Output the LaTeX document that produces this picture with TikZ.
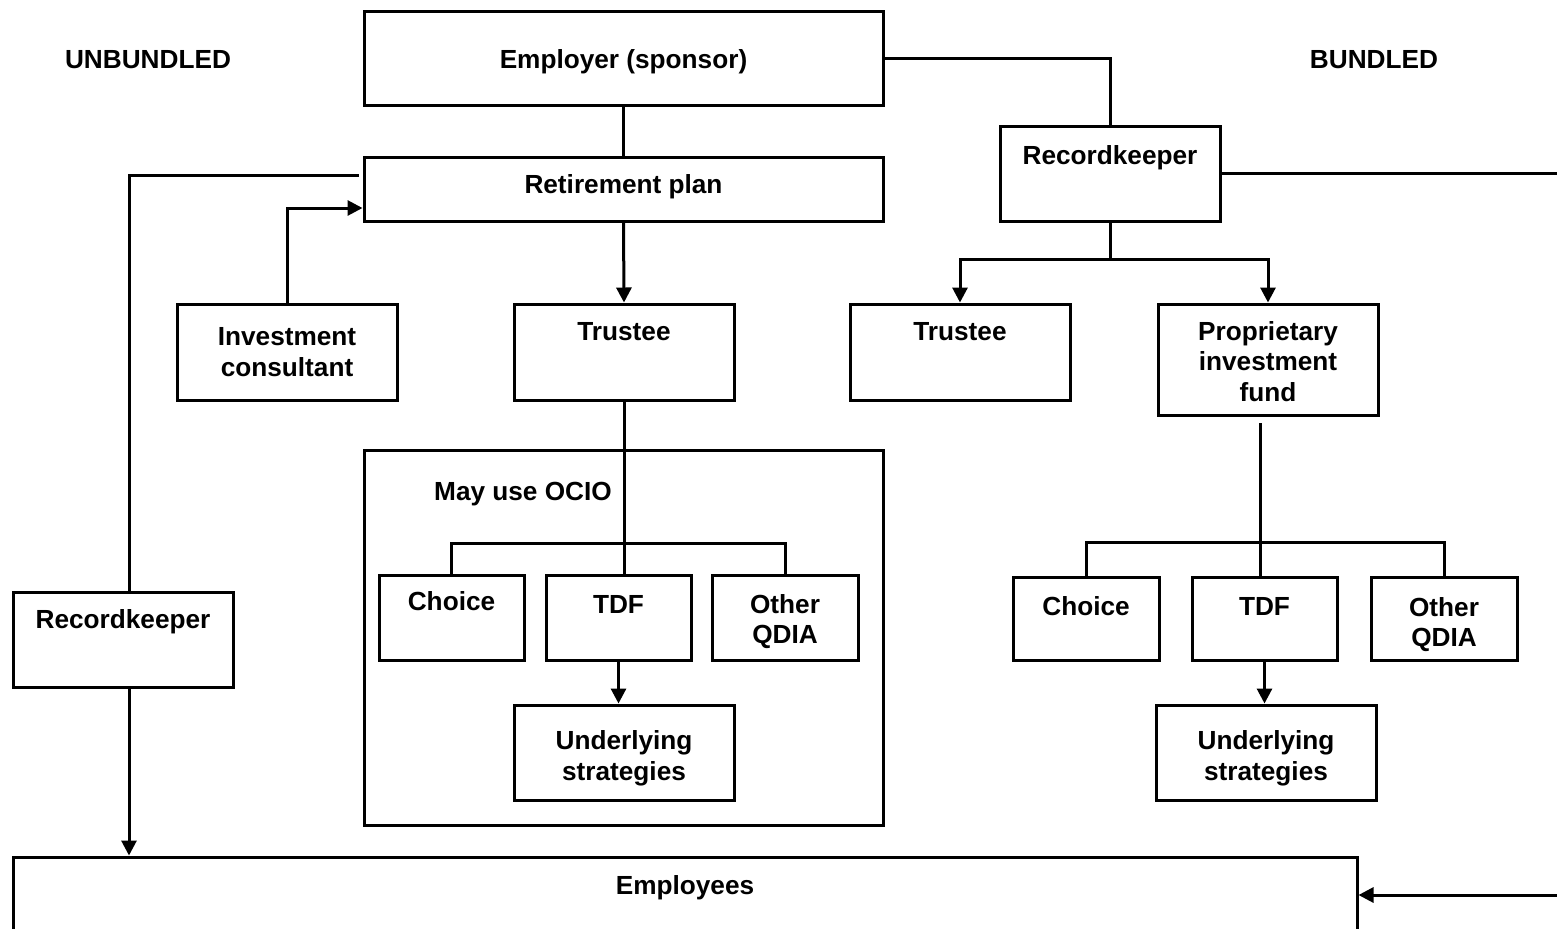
\documentclass[tikz,border=0pt]{standalone}
\usepackage{fontspec}
\setmainfont{Liberation Sans}
\usetikzlibrary{arrows.meta}
\tikzset{
  box/.style={draw, line width=1.5pt, inner sep=0pt},
  lbl/.style={inner sep=0pt, align=center,
    font=\bfseries\fontsize{13.1}{15.3}\selectfont},
  conn/.style={line width=1.5pt},
  arr/.style={conn, -{Triangle[length=7.5pt,width=7.5pt]}},
}
\begin{document}
\begin{tikzpicture}[x=0.5pt,y=-0.5pt]
\useasboundingbox (0,0) rectangle (1557,928);
% headings
\node[lbl] (unb) at (148,60) {UNBUNDLED};
\node[lbl] (bun) at (1374,60) {BUNDLED};
% unbundled side
\node[box, minimum width=259.5pt, minimum height=47pt] (emp) at (623.5,58) {};
\node[lbl] (emptx) at ([yshift=-2pt]emp.center) {Employer (sponsor)};
\node[box, minimum width=259.5pt, minimum height=32pt] (ret) at (623.5,189) {};
\node[lbl] (rettx) at ([yshift=1pt]ret.center) {Retirement plan};
\node[box, minimum width=110pt, minimum height=48pt] (cons) at (287,352) {};
\node[lbl] (constx) at (cons.center) {Investment\\consultant};
\node[box, minimum width=110pt, minimum height=48pt] (trL) at (624,352) {};
\node[lbl] (trLtx) at ([yshift=-14.5pt]trL.north) {Trustee};
\node[box, minimum width=259.5pt, minimum height=187.5pt] (ocio) at (623.5,637.5) {};
\node[lbl] (ociotx) at (523,494) {May use OCIO};
\node[box, minimum width=72.5pt, minimum height=42.5pt] (choiceL) at (451.5,617.5) {};
\node[lbl] (choiceLtx) at ([yshift=-14pt]choiceL.north) {Choice};
\node[box, minimum width=72.5pt, minimum height=42.5pt] (tdfL) at (618.5,617.5) {};
\node[lbl] (tdfLtx) at ([yshift=-15.5pt]tdfL.north) {TDF};
\node[box, minimum width=73pt, minimum height=42.5pt] (otherL) at (785,617.5) {};
\node[lbl] (otherLtx) at ([yshift=-2pt]otherL.center) {Other\\QDIA};
\node[box, minimum width=110pt, minimum height=47.5pt] (undL) at (624,752.5) {};
\node[lbl] (undLtx) at ([yshift=-2.75pt]undL.center) {Underlying\\strategies};
\node[box, minimum width=110pt, minimum height=47.5pt] (rkL) at (123,639.5) {};
\node[lbl] (rkLtx) at ([yshift=-15.5pt]rkL.north) {Recordkeeper};
\node[box, minimum width=672pt, minimum height=50pt] (staff) at (685,907) {};
\node[lbl] (stafftx) at ([yshift=-16pt]staff.north) {Employees};
% bundled side
\node[box, minimum width=110pt, minimum height=47.5pt] (rkR) at (1110,173.5) {};
\node[lbl] (rkRtx) at ([yshift=-16.5pt]rkR.north) {Recordkeeper};
\node[box, minimum width=110pt, minimum height=48pt] (trR) at (960,352) {};
\node[lbl] (trRtx) at ([yshift=-14.5pt]trR.north) {Trustee};
\node[box, minimum width=110pt, minimum height=55.5pt] (fund) at (1268,359.5) {};
\node[lbl] (fundtx) at ([yshift=-1pt]fund.center) {Proprietary\\investment\\fund};
\node[box, minimum width=73pt, minimum height=41.5pt] (choiceR) at (1086,618.5) {};
\node[lbl] (choiceRtx) at ([yshift=-15.5pt]choiceR.north) {Choice};
\node[box, minimum width=72.5pt, minimum height=41.5pt] (tdfR) at (1264.5,618.5) {};
\node[lbl] (tdfRtx) at ([yshift=-15.5pt]tdfR.north) {TDF};
\node[box, minimum width=73pt, minimum height=41.5pt] (otherR) at (1444,618.5) {};
\node[lbl] (otherRtx) at ([yshift=-3pt]otherR.center) {Other\\QDIA};
\node[box, minimum width=110pt, minimum height=47.5pt] (undR) at (1266,752.5) {};
\node[lbl] (undRtx) at ([yshift=-2.75pt]undR.center) {Underlying\\strategies};
% connectors
\coordinate (outR) at (1557,174);
\coordinate (inR) at (1557,895);
\coordinate (barL) at (622,543);
\coordinate (barR) at (1262,542);
\coordinate (splitR) at (1110,259);
\coordinate (fundout) at (1260,423);
\draw[conn] (emp.south) -- (ret.north);
\draw[conn] (emp.east) -| (rkR.north);
\draw[conn] (rkR.east) -- (rkR.east -| outR);
\draw[arr] (inR) -- (inR -| staff.east);
\draw[conn] ([xshift=-2pt,yshift=7pt]ret.west) -| ([xshift=3pt]rkL.north);
\draw[arr] ([xshift=3pt]rkL.south) -- ([xshift=3pt]rkL.south |- staff.north);
\draw[arr] (cons.north) |- ([yshift=-9.5pt]ret.west);
\draw[arr] (ret.south) -- (trL.north);
\draw[conn] (trL.south) -- (trL.south |- tdfL.north);
\draw[conn] (choiceL.north) |- (barL) -| (otherL.north);
\draw[arr] (tdfL.south) -- (tdfL.south |- undL.north);
\draw[conn] (rkR.south) -- (splitR);
\draw[arr] (splitR) -| (trR.north);
\draw[arr] (splitR) -| (fund.north);
\draw[conn] (fundout) -- (fundout |- tdfR.north);
\draw[conn] (choiceR.north) |- (barR) -| (otherR.north);
\draw[arr] (tdfR.south) -- (tdfR.south |- undR.north);
\end{tikzpicture}
\end{document}
